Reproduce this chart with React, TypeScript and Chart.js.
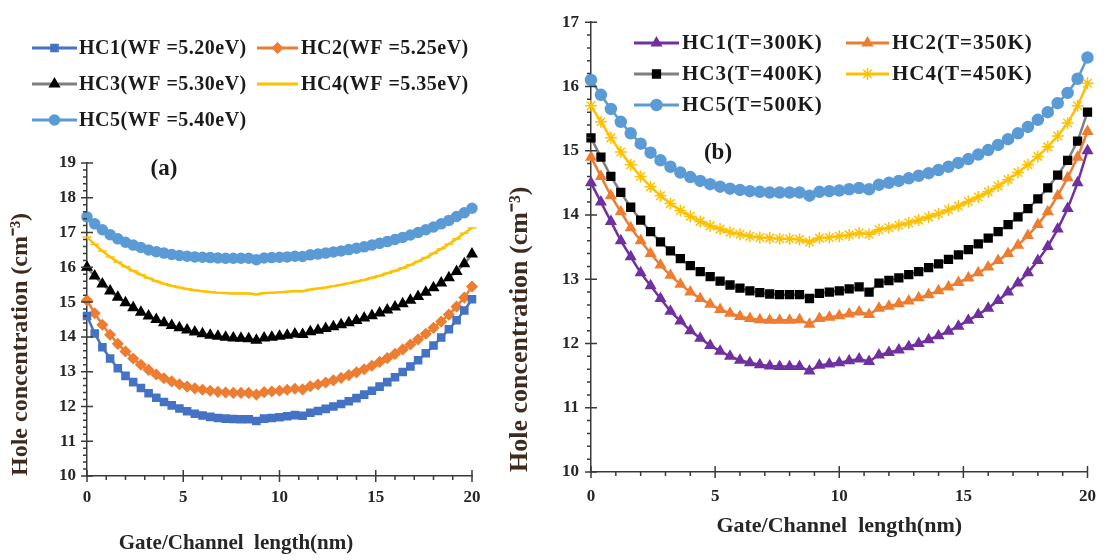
import React, { useEffect, useRef } from "react";
import { Chart, registerables } from "chart.js";
import { drawPoint } from "chart.js/helpers";

Chart.register(...registerables);

const FONT = "'Liberation Serif', 'Times New Roman', serif";

// Gate/Channel length positions (nm)
const X_NM = [
  0, 0.4, 0.8, 1.2, 1.6, 2, 2.4, 2.8, 3.2, 3.6,
  4, 4.4, 4.8, 5.2, 5.6, 6, 6.4, 6.8, 7.2, 7.6,
  8, 8.4, 8.8, 9.2, 9.6, 10, 10.4, 10.8, 11.2, 11.6,
  12, 12.4, 12.8, 13.2, 13.6, 14, 14.4, 14.8, 15.2, 15.6,
  16, 16.4, 16.8, 17.2, 17.6, 18, 18.4, 18.8, 19.2, 19.6,
  20,
];

const X_TICKS = [0, 5, 10, 15, 20];
const A_Y_TICKS = [10, 11, 12, 13, 14, 15, 16, 17, 18, 19];
const B_Y_TICKS = [10, 11, 12, 13, 14, 15, 16, 17];

// Panel (a): work function series
const A_LABELS = [
  "HC1(WF =5.20eV)",
  "HC2(WF =5.25eV)",
  "HC3(WF =5.30eV)",
  "HC4(WF =5.35eV)",
  "HC5(WF =5.40eV)",
];
const A_HC1 = [
  14.6, 14.1, 13.7, 13.38, 13.1, 12.88, 12.7, 12.53, 12.38, 12.25,
  12.13, 12.03, 11.94, 11.86, 11.79, 11.74, 11.7, 11.67, 11.65, 11.64,
  11.63, 11.63, 11.58, 11.65, 11.67, 11.69, 11.72, 11.75, 11.73, 11.82,
  11.87, 11.93, 12.0, 12.07, 12.15, 12.24, 12.34, 12.45, 12.57, 12.7,
  12.84, 12.99, 13.15, 13.33, 13.53, 13.75, 13.98, 14.22, 14.48, 14.76,
  15.08,
];
const A_HC2 = [
  15.05, 14.68, 14.35, 14.06, 13.8, 13.58, 13.38, 13.2, 13.05, 12.92,
  12.81, 12.72, 12.64, 12.57, 12.52, 12.48, 12.45, 12.42, 12.4, 12.39,
  12.39, 12.39, 12.34, 12.41, 12.43, 12.45, 12.48, 12.51, 12.49, 12.58,
  12.63, 12.69, 12.75, 12.82, 12.9, 12.98, 13.07, 13.17, 13.28, 13.39,
  13.51, 13.64, 13.78, 13.93, 14.09, 14.26, 14.44, 14.64, 14.87, 15.13,
  15.45,
];
const A_HC3 = [
  16.0, 15.75, 15.52, 15.32, 15.14, 14.98, 14.84, 14.71, 14.6, 14.5,
  14.41, 14.33, 14.26, 14.2, 14.14, 14.09, 14.05, 14.02, 13.99, 13.97,
  13.96, 13.95, 13.9, 13.97, 13.99, 14.02, 14.05, 14.08, 14.07, 14.15,
  14.19, 14.24, 14.29, 14.35, 14.41, 14.47, 14.54, 14.61, 14.69, 14.77,
  14.86, 14.95, 15.05, 15.16, 15.28, 15.41, 15.55, 15.7, 15.88, 16.1,
  16.38,
];
const A_HC4 = [
  16.87, 16.66, 16.47, 16.3, 16.15, 16.02, 15.9, 15.79, 15.69, 15.6,
  15.53, 15.47, 15.42, 15.38, 15.34, 15.31, 15.29, 15.27, 15.26, 15.25,
  15.25, 15.25, 15.22, 15.26, 15.27, 15.28, 15.3, 15.32, 15.31, 15.36,
  15.39, 15.42, 15.46, 15.5, 15.54, 15.59, 15.64, 15.7, 15.76, 15.83,
  15.9, 15.98, 16.07, 16.17, 16.28, 16.4, 16.53, 16.67, 16.82, 16.98,
  17.13,
];
const A_HC5 = [
  17.45, 17.25, 17.08, 16.94, 16.82, 16.72, 16.64, 16.57, 16.5, 16.45,
  16.41, 16.37, 16.34, 16.32, 16.3, 16.29, 16.28, 16.27, 16.26, 16.26,
  16.26, 16.26, 16.22, 16.27, 16.28, 16.29, 16.3, 16.32, 16.31, 16.36,
  16.38, 16.41, 16.44, 16.47, 16.51, 16.55, 16.59, 16.64, 16.69, 16.74,
  16.8, 16.86, 16.93, 17.0, 17.08, 17.16, 17.25, 17.35, 17.46, 17.57,
  17.7,
];

// Panel (b): temperature series
const B_LABELS = [
  "HC1(T=300K)",
  "HC2(T=350K)",
  "HC3(T=400K)",
  "HC4(T=450K)",
  "HC5(T=500K)",
];
const B_HC1 = [
  14.5, 14.2, 13.9, 13.6, 13.35, 13.1, 12.9, 12.7, 12.5, 12.35,
  12.2, 12.08, 11.97, 11.88, 11.8, 11.74, 11.7, 11.67, 11.65, 11.64,
  11.64, 11.64, 11.57, 11.66, 11.68, 11.7, 11.73, 11.76, 11.72, 11.82,
  11.86, 11.9, 11.95, 12.0, 12.06, 12.12, 12.19, 12.27, 12.36, 12.45,
  12.55, 12.67, 12.8, 12.94, 13.1, 13.29, 13.51, 13.78, 14.1, 14.5,
  15.0,
];
const B_HC2 = [
  14.9, 14.6, 14.3, 14.05, 13.8, 13.6, 13.4, 13.22, 13.06, 12.92,
  12.8, 12.7, 12.61, 12.53, 12.47, 12.42, 12.39, 12.37, 12.36, 12.36,
  12.36, 12.37, 12.3, 12.39, 12.41, 12.43, 12.46, 12.49, 12.45, 12.55,
  12.58, 12.62, 12.66, 12.71, 12.76, 12.82, 12.88, 12.95, 13.02, 13.1,
  13.19, 13.29, 13.4, 13.53, 13.68, 13.85, 14.05, 14.3, 14.58, 14.9,
  15.3,
];
const B_HC3 = [
  15.2, 14.9, 14.6, 14.35, 14.12, 13.92, 13.74, 13.58, 13.44, 13.32,
  13.21, 13.12, 13.04, 12.97, 12.91, 12.86, 12.82, 12.79, 12.77, 12.76,
  12.76, 12.76, 12.7, 12.78, 12.8, 12.82, 12.85, 12.88, 12.8, 12.94,
  12.98, 13.02, 13.07, 13.12, 13.18, 13.24, 13.31, 13.38, 13.46, 13.55,
  13.64, 13.74, 13.85, 13.97, 14.1, 14.25, 14.42, 14.62, 14.85, 15.15,
  15.6,
];
const B_HC4 = [
  15.7, 15.45, 15.2, 14.98, 14.78, 14.6, 14.44, 14.3, 14.18, 14.07,
  13.98, 13.9, 13.83, 13.78, 13.73, 13.7, 13.67, 13.65, 13.64, 13.63,
  13.63, 13.62, 13.58, 13.64, 13.65, 13.67, 13.69, 13.72, 13.7, 13.77,
  13.8, 13.84, 13.88, 13.92, 13.97, 14.02, 14.08, 14.14, 14.21, 14.28,
  14.36, 14.45, 14.55, 14.66, 14.78, 14.91, 15.06, 15.23, 15.43, 15.7,
  16.05,
];
const B_HC5 = [
  16.1, 15.87, 15.65, 15.45, 15.27, 15.11, 14.97, 14.85, 14.75, 14.66,
  14.59, 14.53, 14.48, 14.44, 14.41, 14.39, 14.37, 14.36, 14.35, 14.35,
  14.35, 14.35, 14.3, 14.36, 14.37, 14.38, 14.4, 14.42, 14.4, 14.47,
  14.5, 14.53, 14.57, 14.61, 14.65, 14.7, 14.75, 14.81, 14.87, 14.94,
  15.01, 15.09, 15.18, 15.27, 15.37, 15.48, 15.6, 15.74, 15.9, 16.12,
  16.45,
];

const X_TITLE = "Gate/Channel  length(nm)";
const Y_TITLE = "Hole concentration (cm\u207B\u00B3)";

type LegendItem = { x0: number; x1: number; tx: number; y: number };

function legendPlugin(items: LegendItem[], fontSize: number, spacing: string) {
  return {
    id: "manualLegend",
    afterDraw(chart: any) {
      const ctx = chart.ctx as CanvasRenderingContext2D;
      ctx.save();
      chart.data.datasets.forEach((ds: any, i: number) => {
        const it = items[i];
        if (!it) return;
        ctx.setLineDash([]);
        ctx.strokeStyle = ds.borderColor;
        ctx.lineWidth = 3;
        ctx.beginPath();
        ctx.moveTo(it.x0, it.y);
        ctx.lineTo(it.x1, it.y);
        ctx.stroke();
        ctx.fillStyle = ds.pointBackgroundColor;
        ctx.strokeStyle = ds.pointBorderColor;
        ctx.lineWidth = 1.5;
        drawPoint(
          ctx,
          { pointStyle: ds.pointStyle, radius: ds.pointRadius, rotation: 0, borderWidth: 1.5 } as any,
          (it.x0 + it.x1) / 2,
          it.y
        );
        ctx.fillStyle = "#1a1a1a";
        ctx.font = `bold ${fontSize}px ${FONT}`;
        (ctx as any).letterSpacing = spacing;
        ctx.textBaseline = "middle";
        ctx.textAlign = "left";
        ctx.fillText(ds.label, it.tx, it.y + 1);
      });
      ctx.restore();
    },
  };
}

function axisTicksPlugin(yMinorPerUnit: number) {
  return {
    id: "axisTicks",
    afterDraw(chart: any) {
      const ctx = chart.ctx as CanvasRenderingContext2D;
      const { x, y } = chart.scales;
      const { left, bottom } = chart.chartArea;
      ctx.save();
      ctx.strokeStyle = "#3a3a3a";
      ctx.lineWidth = 1.5;
      ctx.beginPath();
      const yn = Math.round((y.max - y.min) * yMinorPerUnit);
      for (let i = 0; i <= yn; i++) {
        const v = y.min + i / yMinorPerUnit;
        const p = y.getPixelForValue(v);
        const major = i % yMinorPerUnit === 0;
        ctx.moveTo(left - (major ? 6 : 4), p);
        ctx.lineTo(major ? left + 6 : left, p);
      }
      for (let v = x.min; v <= x.max; v++) {
        const p = x.getPixelForValue(v);
        const major = v % 5 === 0;
        ctx.moveTo(p, major ? bottom - 6 : bottom);
        ctx.lineTo(p, bottom + (major ? 6 : 4));
      }
      ctx.stroke();
      ctx.restore();
    },
  };
}

function tagPlugin(text: string, x: number, y: number) {
  return {
    id: "panelTag",
    afterDraw(chart: any) {
      const ctx = chart.ctx as CanvasRenderingContext2D;
      ctx.save();
      ctx.fillStyle = "#1a1a1a";
      ctx.font = `bold 23px ${FONT}`;
      ctx.textAlign = "center";
      ctx.textBaseline = "middle";
      ctx.fillText(text, x, y);
      ctx.restore();
    },
  };
}

function series(label: string, vals: number[], line: string, fill: string, style: string, r: number) {
  return {
    label,
    data: X_NM.map((x, i) => ({ x, y: vals[i] })),
    borderColor: line,
    backgroundColor: fill,
    pointBackgroundColor: fill,
    pointBorderColor: fill,
    pointStyle: style,
    pointRadius: r,
    pointBorderWidth: 1.5,
    borderWidth: 2.5,
    tension: 0,
    clip: false,
  };
}

const tickFont = { family: FONT, size: 17, weight: "bold" as const };

function configA(): any {
  return {
    type: "line",
    data: {
      datasets: [
        series(A_LABELS[0], A_HC1, "#4472C4", "#4472C4", "rect", 5),
        series(A_LABELS[1], A_HC2, "#ED7D31", "#ED7D31", "rectRot", 5),
        series(A_LABELS[2], A_HC3, "#7f7f7f", "#000000", "triangle", 5.5),
        series(A_LABELS[3], A_HC4, "#FFC000", "#FFC000", "line", 4.5),
        series(A_LABELS[4], A_HC5, "#5B9BD5", "#5B9BD5", "circle", 5),
      ],
    },
    options: {
      animation: false,
      responsive: false,
      maintainAspectRatio: false,
      layout: { padding: { left: 0, right: 28, top: 163, bottom: 4 } },
      plugins: {
        legend: { display: false },
        tooltip: { enabled: false },
        title: {
          display: true,
          position: "bottom",
          text: X_TITLE,
          color: "#262626",
          font: { family: FONT, size: 21, weight: "bold" },
          padding: 0,
        },
      },
      scales: {
        x: {
          type: "linear",
          min: 0,
          max: 20,
          afterBuildTicks: (s: any) => {
            s.ticks = X_TICKS.map((v) => ({ value: v }));
          },
          afterFit: (s: any) => {
            s.height = 54.8;
          },
          grid: { display: true, drawOnChartArea: false, drawTicks: false },
          border: { display: true, color: "#3a3a3a", width: 1.5 },
          ticks: { color: "#262626", font: tickFont, padding: 11, maxRotation: 0 },
        },
        y: {
          type: "linear",
          min: 10,
          max: 19,
          afterBuildTicks: (s: any) => {
            s.ticks = A_Y_TICKS.map((v) => ({ value: v }));
          },
          afterFit: (s: any) => {
            s.width = 87;
          },
          grid: { display: true, drawOnChartArea: false, drawTicks: false },
          border: { display: true, color: "#3a3a3a", width: 1.5 },
          ticks: { color: "#262626", font: tickFont, padding: 11 },
          title: {
            display: true,
            text: Y_TITLE,
            align: "start",
            color: "#3d2b1f",
            font: { family: FONT, size: 24, weight: "bold" },
            padding: { top: 6, bottom: 0 },
          },
        },
      },
    },
    plugins: [
      axisTicksPlugin(5),
      legendPlugin(
        [
          { x0: 32, x1: 77, tx: 79, y: 48 },
          { x0: 257, x1: 298, tx: 301, y: 48 },
          { x0: 32, x1: 77, tx: 79, y: 84 },
          { x0: 257, x1: 298, tx: 301, y: 84 },
          { x0: 32, x1: 77, tx: 79, y: 120 },
        ],
        20,
        "0.5px"
      ),
      tagPlugin("(a)", 164, 169),
    ],
  };
}

function configB(): any {
  return {
    type: "line",
    data: {
      datasets: [
        series(B_LABELS[0], B_HC1, "#7030A0", "#7030A0", "triangle", 5.5),
        series(B_LABELS[1], B_HC2, "#ED7D31", "#ED7D31", "triangle", 5.5),
        series(B_LABELS[2], B_HC3, "#7f7f7f", "#000000", "rect", 5.5),
        series(B_LABELS[3], B_HC4, "#FFC000", "#FFC000", "star", 6),
        series(B_LABELS[4], B_HC5, "#5B9BD5", "#5B9BD5", "circle", 5.5),
      ],
    },
    options: {
      animation: false,
      responsive: false,
      maintainAspectRatio: false,
      layout: { padding: { left: 0, right: 17, top: 17, bottom: 0 } },
      plugins: {
        legend: { display: false },
        tooltip: { enabled: false },
      },
      scales: {
        x: {
          type: "linear",
          min: 0,
          max: 20,
          afterBuildTicks: (s: any) => {
            s.ticks = X_TICKS.map((v) => ({ value: v }));
          },
          afterFit: (s: any) => {
            s.height = 88;
          },
          grid: { display: true, drawOnChartArea: false, drawTicks: false },
          border: { display: true, color: "#3a3a3a", width: 1.5 },
          ticks: { color: "#262626", font: tickFont, padding: 14, maxRotation: 0 },
          title: {
            display: true,
            text: X_TITLE,
            color: "#262626",
            font: { family: FONT, size: 22, weight: "bold" },
            padding: { top: 0, bottom: 20 },
          },
        },
        y: {
          type: "linear",
          min: 10,
          max: 17,
          afterBuildTicks: (s: any) => {
            s.ticks = B_Y_TICKS.map((v) => ({ value: v }));
          },
          afterFit: (s: any) => {
            s.width = 91;
          },
          grid: { display: true, drawOnChartArea: false, drawTicks: false },
          border: { display: true, color: "#3a3a3a", width: 1.5 },
          ticks: { color: "#262626", font: tickFont, padding: 12 },
          title: {
            display: true,
            text: Y_TITLE,
            align: "start",
            color: "#3d2b1f",
            font: { family: FONT, size: 26, weight: "bold" },
            padding: { top: 5, bottom: 0 },
          },
        },
      },
    },
    plugins: [
      axisTicksPlugin(5),
      legendPlugin(
        [
          { x0: 134, x1: 179, tx: 182, y: 43 },
          { x0: 346, x1: 389, tx: 392, y: 43 },
          { x0: 134, x1: 179, tx: 182, y: 74 },
          { x0: 346, x1: 389, tx: 392, y: 74 },
          { x0: 134, x1: 179, tx: 182, y: 105 },
        ],
        21,
        "1px"
      ),
      tagPlugin("(b)", 218, 153),
    ],
  };
}

function Panel({ make, left, width }: { make: () => any; left: number; width: number }) {
  const ref = useRef<HTMLCanvasElement | null>(null);
  useEffect(() => {
    if (!ref.current) return;
    const chart = new Chart(ref.current, make());
    return () => chart.destroy();
  }, [make]);
  return (
    <canvas
      ref={ref}
      width={width}
      height={560}
      style={{ position: "absolute", left, top: 0, width, height: 560 }}
    />
  );
}

export default function App() {
  return (
    <div
      style={{
        position: "fixed",
        left: 0,
        top: 0,
        width: 1110,
        height: 560,
        background: "#ffffff",
        overflow: "hidden",
      }}
    >
      <Panel make={configA} left={0} width={500} />
      <Panel make={configB} left={500} width={610} />
    </div>
  );
}
